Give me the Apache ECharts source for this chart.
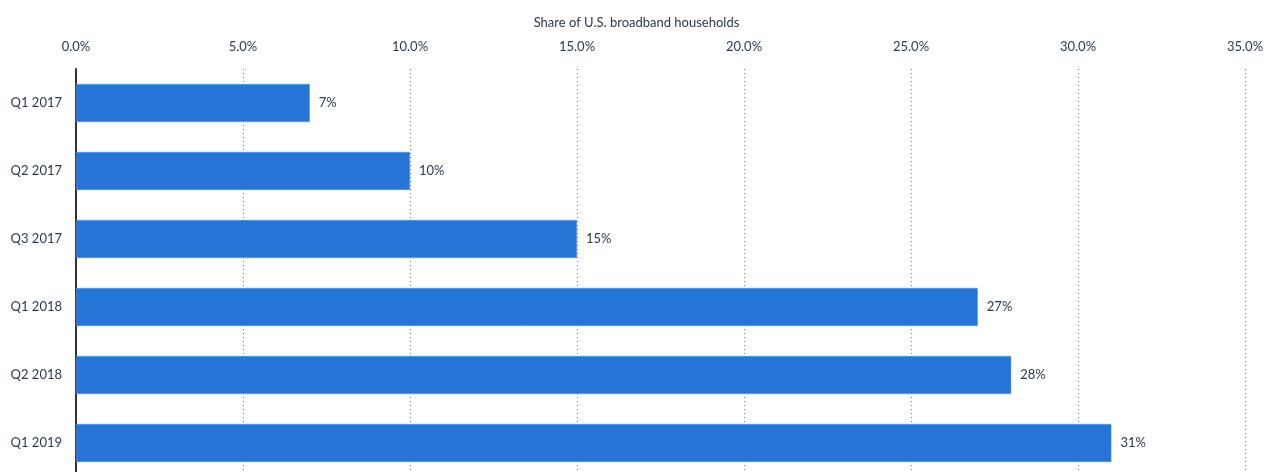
<!DOCTYPE html>
<html>
<head>
<meta charset="utf-8">
<script src="https://cdn.jsdelivr.net/npm/echarts@6/dist/echarts.min.js"></script>
<style>
  html, body { margin: 0; padding: 0; background: #fff; overflow: hidden; }
  /* the plot runs a few pixels past the bottom of the visible page */
  #chart { width: 1273px; height: 480px; }
</style>
</head>
<body>
<div id="chart"></div>
<script>
// Quarters shown on the category axis (top to bottom)
const quarters = ['Q1 2017', 'Q2 2017', 'Q3 2017', 'Q1 2018', 'Q2 2018', 'Q1 2019'];
// Share of U.S. broadband households, in percent
const shares = [7, 10, 15, 27, 28, 31];
// Value axis range
const axisMin = 0;
const axisMax = 35;
const axisStep = 5;

const textColor = '#2b3a4c';
const fontFamily = 'Lato, "Open Sans", sans-serif';

const chart = echarts.init(document.getElementById('chart'));
chart.setOption({
  animation: false,
  title: {
    text: 'Share of U.S. broadband households',
    left: 'center',
    top: 11,
    textStyle: { color: textColor, fontFamily, fontSize: 13, fontWeight: 'normal' }
  },
  grid: { left: 76, right: 28, top: 69, bottom: 3, containLabel: false },
  xAxis: {
    type: 'value',
    position: 'top',
    min: axisMin,
    max: axisMax,
    interval: axisStep,
    axisLine: { show: false },
    axisTick: { show: false },
    axisLabel: {
      color: textColor,
      fontFamily,
      fontSize: 13,
      margin: 16,
      formatter: v => v.toFixed(1) + '%'
    },
    splitLine: { show: true, lineStyle: { color: '#7a7a7a', type: [1, 3], width: 1 } }
  },
  yAxis: {
    type: 'category',
    inverse: true,
    data: quarters,
    axisLine: { show: true, lineStyle: { color: '#333', width: 2 } },
    axisTick: { show: false },
    axisLabel: { color: textColor, fontFamily, fontSize: 13, margin: 14 }
  },
  series: [{
    type: 'bar',
    data: shares,
    barWidth: '56%',
    itemStyle: { color: '#2575d6', borderColor: '#5a9ae6', borderWidth: 0.5 },
    label: {
      show: true,
      position: 'right',
      distance: 9,
      color: textColor,
      fontFamily,
      fontSize: 13,
      fontWeight: 'normal',
      formatter: p => p.value + '%'
    }
  }]
});
</script>
</body>
</html>
